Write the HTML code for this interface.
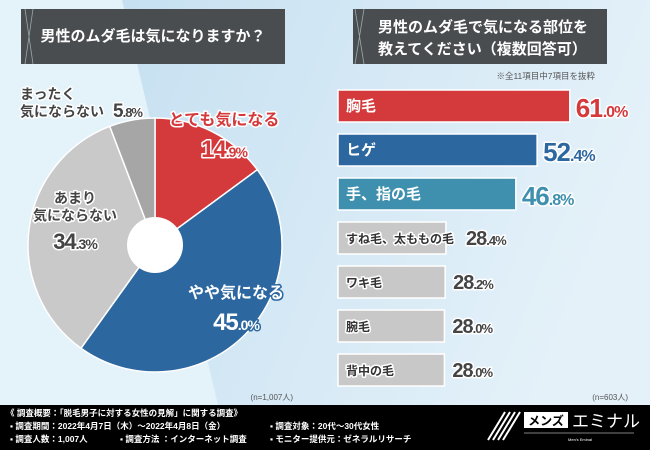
<!DOCTYPE html>
<html><head><meta charset="utf-8"><style>
body{margin:0;}
svg text{font-family:"Liberation Sans","Noto Sans CJK JP",sans-serif;}
</style></head><body>
<svg width="650" height="450" viewBox="0 0 650 450" xmlns="http://www.w3.org/2000/svg">
<defs>
<linearGradient id="bg2" x1="0" y1="0" x2="1" y2="0.3">
<stop offset="0" stop-color="#c6e0f1"/><stop offset="1" stop-color="#e4f1f9"/>
</linearGradient>
</defs>
<rect width="650" height="450" fill="#e4f2fa"/>
<polygon points="122,0 650,0 650,405 218,405" fill="url(#bg2)"/>

<g>
<rect x="21" y="9" width="264" height="55" fill="#4a4d50"/>
<path d="M25 9 L33 64 M33 9 L25 64" stroke="#9aa" stroke-width="0.8" fill="none"/>
<text x="153" y="41" font-size="15" font-weight="bold" fill="#fff" text-anchor="middle">男性のムダ毛は気になりますか？</text>
</g>
<g>
<rect x="353" y="9" width="254" height="55" fill="#4a4d50"/>
<path d="M355 9 L364 64 M364 9 L355 64" stroke="#9aa" stroke-width="0.8" fill="none"/>
<text x="378" y="32" font-size="15" font-weight="bold" fill="#fff">男性のムダ毛で気になる部位を</text>
<text x="378" y="54" font-size="15" font-weight="bold" fill="#fff">教えてください（複数回答可）</text>
</g>
<text x="595" y="79" font-size="8.5" fill="#555" text-anchor="end">※全11項目中7項目を抜粋</text>

<g id="pie"></g>
<g id="bars"></g>

<text x="293" y="400" font-size="8" fill="#555" text-anchor="end">(n=1,007人)</text>
<text x="628" y="400" font-size="8" fill="#555" text-anchor="end">(n=603人)</text>

<g>
<rect x="0" y="405" width="650" height="45" fill="#000"/>
<g fill="#fff" font-size="8.5" font-weight="bold">
<text x="6" y="416">《 調査概要：「脱毛男子に対する女性の見解」に関する調査》</text>
<text x="10" y="429">▪ 調査期間：2022年4月7日（木）〜2022年4月8日（金）</text>
<text x="10" y="442">▪ 調査人数：1,007人</text>
<text x="120" y="442">▪ 調査方法 ：インターネット調査</text>
<text x="270" y="429">▪ 調査対象：20代〜30代女性</text>
<text x="270" y="442">▪ モニター提供元：ゼネラルリサーチ</text>
</g>
<g>
<path d="M488 440 L505 412 M493 440 L510 412 M498 440 L515 412 M503 440 L520 412" stroke="#fff" stroke-width="2"/>
<rect x="524" y="412" width="44" height="16" fill="#fff"/>
<text x="546" y="425" font-size="12" font-weight="bold" fill="#000" text-anchor="middle">メンズ</text>
<text x="572" y="427" font-size="17" fill="#fff">エミナル</text>
<line x1="524" y1="433" x2="634" y2="433" stroke="#fff" stroke-width="0.6"/>
<text x="580" y="441" font-size="4" fill="#fff" text-anchor="middle">Men's Eminal</text>
</g>
</g>
</svg>
<script>
const pieLabels=["とても気になる","やや気になる","あまり気にならない","まったく気にならない"];
const pieValues=[14.9,45.0,34.3,5.8];
const pieColors=["#d4393b","#2d67a0","#c9c9c9","#a6a6a6"];
const barCategories=["胸毛","ヒゲ","手、指の毛","すね毛、太ももの毛","ワキ毛","腕毛","背中の毛"];
const barValues=[61.0,52.4,46.8,28.4,28.2,28.0,28.0];
const barColors=["#d4393b","#2d67a0","#3f90ae","#c8c8c8","#c8c8c8","#c8c8c8","#c8c8c8"];
const valueColors=["#d4393b","#2d67a0","#3f90ae","#444","#444","#444","#444"];

const NS="http://www.w3.org/2000/svg";
function mk(tag,attrs,parent){const e=document.createElementNS(NS,tag);for(const k in attrs)e.setAttribute(k,attrs[k]);parent.appendChild(e);return e;}

const pie=document.getElementById('pie');
const cx=155,cy=245,r=127,hr=28;
const total=pieValues.reduce((a,b)=>a+b,0);
function pt(a,rad){return [cx+rad*Math.sin(a),cy-rad*Math.cos(a)];}
let acc=0;
pieValues.forEach((v,i)=>{
  const a0=acc/total*2*Math.PI; acc+=v; const a1=acc/total*2*Math.PI;
  const p0=pt(a0,r),p1=pt(a1,r);
  const large=(a1-a0)>Math.PI?1:0;
  const s=mk('path',{d:`M${cx} ${cy} L${p0[0]} ${p0[1]} A${r} ${r} 0 ${large} 1 ${p1[0]} ${p1[1]} Z`,fill:pieColors[i],stroke:'#fff','stroke-width':1.5},pie);
  
  
});
const hole=mk('circle',{cx:cx,cy:cy,r:hr,fill:'#fff'},pie);



function label(parent,x,y,lines,fill,size,anchor,stroke){
  const t=mk('text',{x:x,y:y,'font-size':size,'font-weight':'bold',fill:fill,'text-anchor':anchor,stroke:stroke,'stroke-width':3,'paint-order':'stroke','stroke-linejoin':'round'},parent);
  lines.forEach((l,j)=>{const ts=mk('tspan',{x:x,dy:j?size*1.25:0},t);ts.textContent=l;});
  return t;
}
function pct(parent,x,y,v,fill,big,small,anchor,stroke){
  const s=v.toFixed(1).split('.');
  const t=mk('text',{x:x,y:y,'font-weight':'bold',fill:fill,'text-anchor':anchor,stroke:stroke,'stroke-width':3,'paint-order':'stroke','stroke-linejoin':'round','letter-spacing':'-1'},parent);
  const a=mk('tspan',{'font-size':big},t);a.textContent=s[0];
  const b=mk('tspan',{'font-size':small},t);b.textContent='.'+s[1]+'%';
  return t;
}
const lp=[[224,125,'middle','#d4393b','#fff'],[236,298,'middle','#fff','#2d67a0'],[75,203,'middle','#444','#fff'],[66,99,'middle','#444','#fff']];
const lines=[[pieLabels[0]],[pieLabels[1]],["あまり","気にならない"],["まったく","気にならない"]];
pieValues.forEach((v,i)=>{
  const [x,y,an,f,st]=lp[i];
  let t;
  if(i===3){
    t=label(pie,20,y,lines[i],f,14,'start',st);
    
    
    const p=pct(pie,113,y+18,v,f,19,13,'start',st);
    
    
    return;
  }
  t=label(pie,x,y,lines[i],f,i===2?14:16,an,st);
  
  
  const off=(lines[i].length-1)*18+(i===2?28:32);
  const p=pct(pie,x,y+off,v,f,i===2?22:24,14,an,st);
  
  
});

const bars=document.getElementById('bars');
const x0=338,scale=3.8,y0=90,pitch=44,bh=32;
function xs(v){return v*scale;}
barValues.forEach((v,i)=>{
  const y=y0+i*pitch;
  const b=mk('rect',{x:x0,y:y,width:xs(v),height:bh,fill:barColors[i],stroke:'#fff','stroke-width':1.5},bars);
  
  
  const light=i>=3;
  const t=label(bars,x0+8,y+21,[barCategories[i]],light?'#333':'#fff',light?12:15,'start',light?'#fff':'#333');
  if(!light){t.setAttribute('stroke-width',0);}
  
  
  let tl=0;try{tl=t.getComputedTextLength();}catch(e){}
  const vx=Math.max(x0+xs(v),x0+8+tl+4)+(light?8:6);
  const p=pct(bars,vx,y+(light?23:27),v,valueColors[i],light?20:26,light?13:16,'start','#fff');
  
  
});
</script>
</body></html>
